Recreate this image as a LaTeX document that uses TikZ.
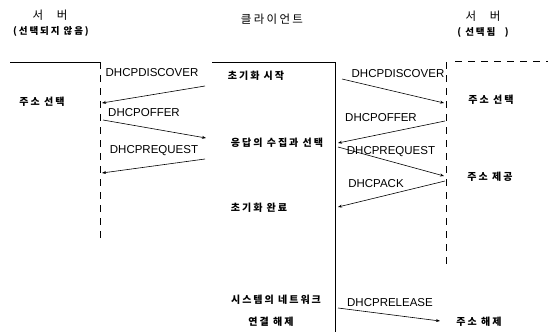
\documentclass[tikz,border=0pt]{standalone}
\usepackage{fontspec}
\setmainfont{Liberation Sans}
\newfontfamily\krfont{Noto Sans CJK KR}[LetterSpace=20]
\usetikzlibrary{arrows.meta}

\begin{document}
\begin{tikzpicture}[x=1pt, y=-1pt,
  msgnode/.style={font=\fontsize{11.5}{13}\selectfont, inner sep=0pt},
  actnode/.style={font=\krfont\bfseries\fontsize{10}{12}\selectfont, inner sep=0pt},
  headnode/.style={font=\krfont\fontsize{11.5}{13}\selectfont, inner sep=0pt},
  subnode/.style={font=\krfont\bfseries\fontsize{9.5}{11}\selectfont, inner sep=0pt},
  arr/.style={-{Stealth[length=4pt, width=3pt]}, semithick},
  lifeline/.style={dash pattern=on 7pt off 6pt, semithick}]
\useasboundingbox (0,0) rectangle (548,332);
% Headers
\node[headnode] (srvA)    at (50,15)  {서\hspace{1.2em}버};
\node[subnode]  (srvAsub) at (51,31)  {(선택되지 않음)};
\node[headnode] (cli)     at (272,19) {클라이언트};
\node[headnode] (srvB)    at (483,16) {서\hspace{1.2em}버};
\node[subnode]  (srvBsub) at (483,32) {(\ 선택됨\quad)};
% Lifelines
\coordinate (aL) at (10,62);   \coordinate (aTop) at (100,62);  \coordinate (aBot) at (100,240);
\coordinate (cL) at (212,62);  \coordinate (cTop) at (335,62);  \coordinate (cBot) at (335,332);
\coordinate (bL) at (455,61);  \coordinate (bR) at (548,61);
\coordinate (bTop) at (446,62); \coordinate (bBot) at (446,265);
\draw[semithick] (aL) -- (aTop);
\draw[lifeline] (aTop) -- (aBot);
\draw[semithick] (cL) -- (cTop) -- (cBot);
\draw[lifeline] (bL) -- (bR);
\draw[lifeline] (bTop) -- (bBot);
% Steps
\node[actnode] (aSel)  at (42,102)  {주소 선택};
\node[actnode] (cInit) at (256,76)  {초기화 시작};
\node[actnode] (cColl) at (277,143) {응답의 수집과 선택};
\node[actnode] (cDone) at (259,208) {초기화 완료};
\node[actnode] (cSys)  at (276,300) {시스템의 네트워크};
\node[actnode] (cRel)  at (271,322) {연결 해제};
\node[actnode] (bSel)  at (491,100) {주소 선택};
\node[actnode] (bOff)  at (490,177) {주소 제공};
\node[actnode] (bRel)  at (479,322) {주소 해제};
% Message end points
\coordinate (m1s) at (205,86);  \coordinate (m1e) at (102,103);
\coordinate (m2s) at (103,120); \coordinate (m2e) at (206,138);
\coordinate (m3s) at (205,159); \coordinate (m3e) at (102,173);
\coordinate (m4s) at (342,79);  \coordinate (m4e) at (444,103);
\coordinate (m5s) at (445,121); \coordinate (m5e) at (338,143);
\coordinate (m6s) at (338,147); \coordinate (m6e) at (444,176);
\coordinate (m7s) at (445,181); \coordinate (m7e) at (338,207);
\coordinate (m8s) at (338,308); \coordinate (m8e) at (440,321);
% Arrows with labels
\draw[arr] (m1s) -- (m1e);
\node[msgnode] (l1) at (152,73)  {DHCPDISCOVER};
\draw[arr] (m2s) -- (m2e);
\node[msgnode] (l2) at (144,113) {DHCPOFFER};
\draw[arr] (m3s) -- (m3e);
\node[msgnode] (l3) at (154,151) {DHCPREQUEST};
\draw[arr] (m4s) -- (m4e);
\node[msgnode] (l4) at (398,74)  {DHCPDISCOVER};
\draw[arr] (m5s) -- (m5e);
\node[msgnode] (l5) at (381,118) {DHCPOFFER};
\draw[arr] (m6s) -- (m6e);
\node[msgnode] (l6) at (391,152) {DHCPREQUEST};
\draw[arr] (m7s) -- (m7e);
\node[msgnode] (l7) at (376,184) {DHCPACK};
\draw[arr] (m8s) -- (m8e);
\node[msgnode] (l8) at (390,303) {DHCPRELEASE};
\end{tikzpicture}
\end{document}
